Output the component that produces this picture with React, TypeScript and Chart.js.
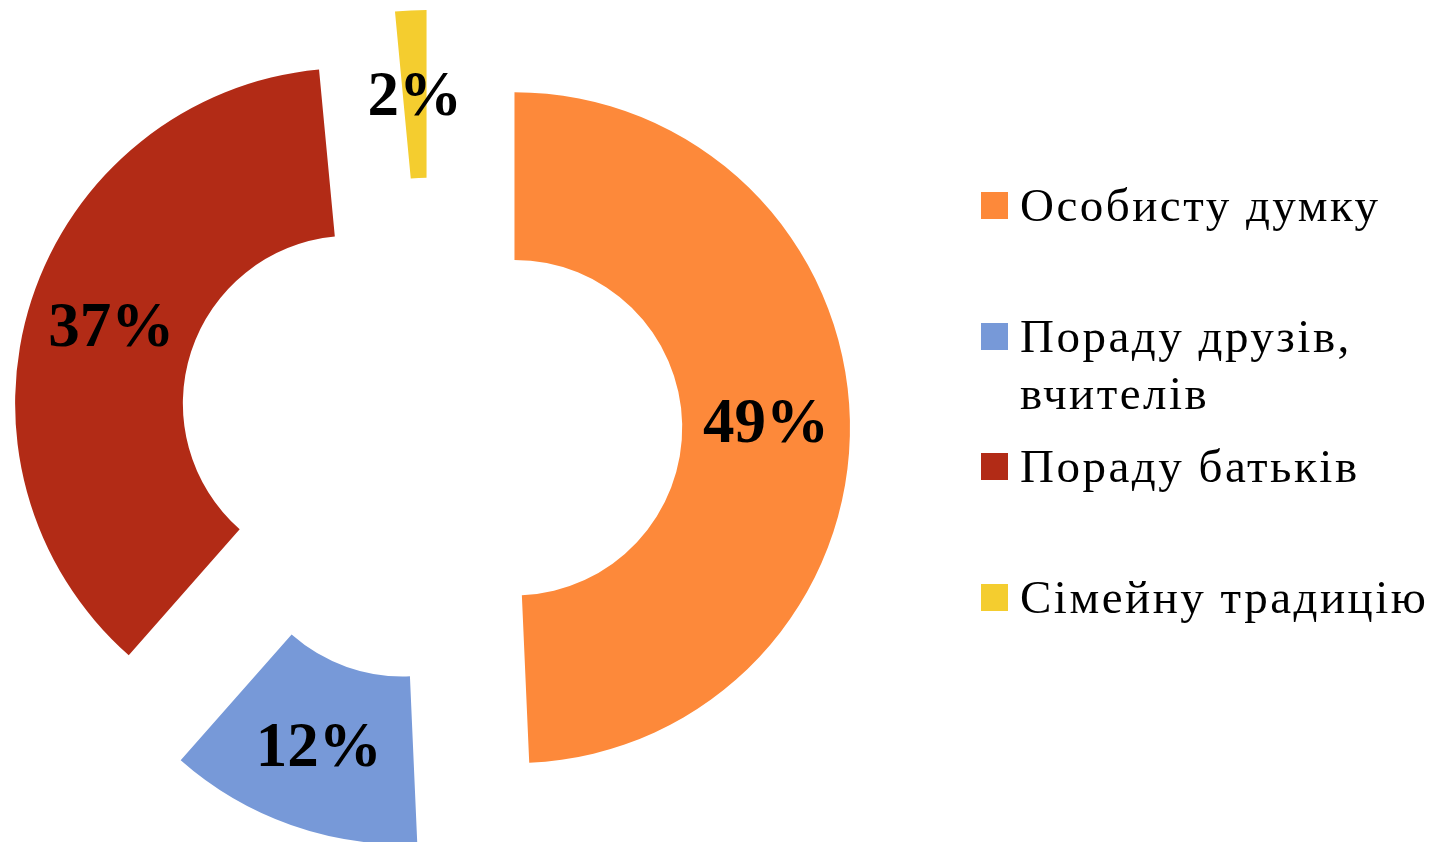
import React, { useEffect, useRef } from 'react';
import { Chart, registerables } from 'chart.js';

Chart.register(...registerables);

// ---- data ----
const categories = ['Особисту думку', 'Пораду друзів, вчителів', 'Пораду батьків', 'Сімейну традицію'];
const shares = [49.3, 12.2, 37.0, 1.5];
const colors = ['#FD893A', '#7799D8', '#B22B16', '#F4CD2F'];

// ---- style ----
const EXPLODE = 84;
const OUTER_RADIUS = 335.5;
const LABEL_FONT = 'bold 63px "Liberation Serif"';
const LABEL_DY = 4;
const LEGEND_FONT = '47px "Liberation Serif"';
const LEGEND_TOP = 177;
const LEGEND_STEP = 130.5;

const explodePlugin = {
  id: 'explodeAndLabels',
  beforeDatasetDraw(chart: any, args: any) {
    const ctx = chart.ctx;
    args.meta.data.forEach((arc: any) => {
      const mid = (arc.startAngle + arc.endAngle) / 2;
      ctx.save();
      ctx.translate(Math.cos(mid) * EXPLODE, Math.sin(mid) * EXPLODE);
      arc.draw(ctx, chart.chartArea);
      ctx.restore();
    });
    return false;
  },
  afterDatasetsDraw(chart: any) {
    const ctx = chart.ctx;
    const meta = chart.getDatasetMeta(0);
    const values = chart.data.datasets[0].data as number[];
    ctx.save();
    ctx.font = LABEL_FONT;
    ctx.fillStyle = '#000';
    ctx.textAlign = 'center';
    ctx.textBaseline = 'middle';
    meta.data.forEach((arc: any, i: number) => {
      const mid = (arc.startAngle + arc.endAngle) / 2;
      const r = (arc.innerRadius + arc.outerRadius) / 2 + EXPLODE;
      ctx.fillText(
        Math.round(values[i]) + '%',
        arc.x + Math.cos(mid) * r,
        arc.y + Math.sin(mid) * r + LABEL_DY
      );
    });
    ctx.restore();
  },
};

export default function App() {
  const canvasRef = useRef<HTMLCanvasElement | null>(null);

  useEffect(() => {
    if (!canvasRef.current) return;
    const chart = new Chart(canvasRef.current, {
      type: 'doughnut',
      data: {
        labels: categories,
        datasets: [
          {
            data: shares,
            backgroundColor: colors,
            borderWidth: 0,
            clip: false as any,
          },
        ],
      },
      options: {
        animation: false,
        responsive: true,
        maintainAspectRatio: false,
        radius: OUTER_RADIUS,
        cutout: '50%',
        layout: { padding: { left: 0, right: 588, top: 17, bottom: 0 } },
        plugins: {
          legend: { display: false },
          tooltip: { enabled: false },
        },
      } as any,
      plugins: [explodePlugin as any],
    });
    return () => chart.destroy();
  }, []);

  return (
    <div style={{ position: 'absolute', left: 0, top: 0, width: 1449, height: 842, background: '#fff', overflow: 'hidden' }}>
      <canvas ref={canvasRef} />
      {categories.map((name, i) => (
        <div key={name} style={{ position: 'absolute', left: 981, top: LEGEND_TOP + i * LEGEND_STEP }}>
          <div style={{ position: 'absolute', left: 0, top: 15, width: 27, height: 27, background: colors[i] }} />
          <div
            style={{
              position: 'absolute',
              left: 39,
              top: 0,
              width: 428,
              font: LEGEND_FONT,
              lineHeight: '57px',
              letterSpacing: '2.5px',
              color: '#000',
            }}
          >
            {name}
          </div>
        </div>
      ))}
    </div>
  );
}
